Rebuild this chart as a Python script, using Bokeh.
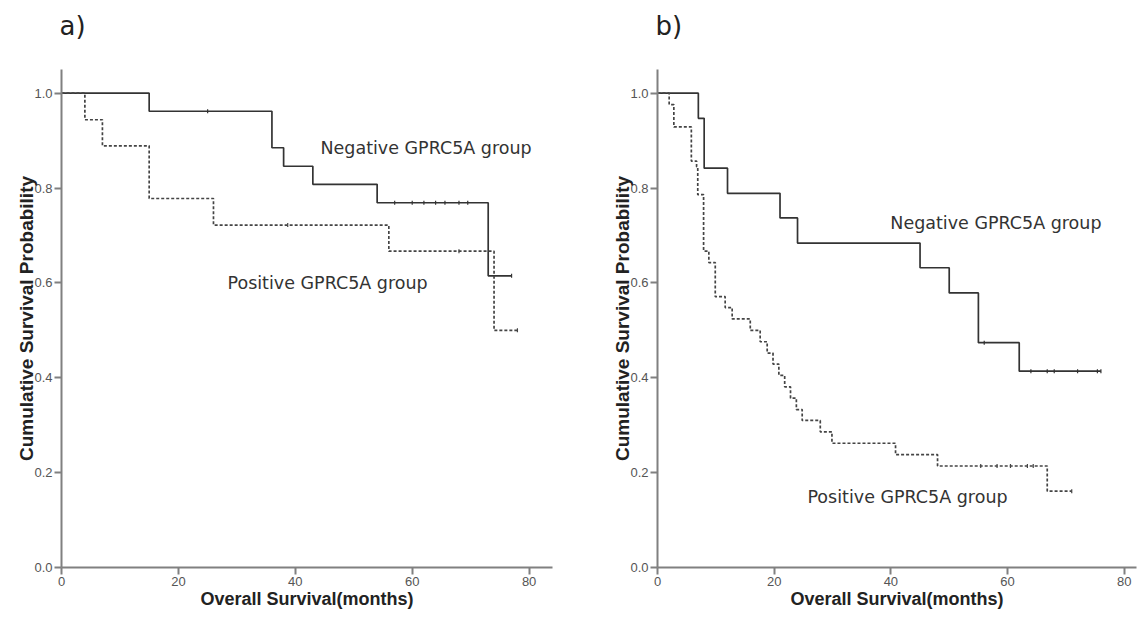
import numpy as np
from bokeh.plotting import figure
from bokeh.layouts import row
from bokeh.models import Label, Title, FixedTicker, NumeralTickFormatter, Range1d
from bokeh.embed import file_html
from bokeh.resources import INLINE

# ---------------- data ----------------
# panel a
a_neg_t = [0, 15, 36, 38, 43, 54, 73, 77]
a_neg_s = [1.0, 0.962, 0.885, 0.846, 0.808, 0.769, 0.615, 0.615]
a_neg_cens = [25, 57, 60, 62, 64, 65.6, 68, 69.5, 77]
a_pos_t = [0, 4, 7, 15, 26, 56, 74, 78]
a_pos_s = [1.0, 0.944, 0.889, 0.778, 0.722, 0.667, 0.5, 0.5]
a_pos_cens = [38.7, 68, 78]

# panel b
b_neg_t = [0, 7, 8, 12, 21, 24, 45, 50, 55, 62, 76]
b_neg_s = [1.0, 0.947, 0.842, 0.789, 0.737, 0.684, 0.632, 0.579, 0.474, 0.414, 0.414]
b_neg_cens = [56, 64, 66.8, 68, 72, 75.4, 76]
b_pos_t = [0, 2, 2.8, 5.8, 6.7, 6.9, 7.9, 8.8, 9.9, 11.6, 12.8, 15.9, 17.6, 18.8,
           19.8, 20.8, 21.8, 22.8, 23.8, 24.8, 27.9, 29.9, 40.8, 48, 66.8, 71]
b_pos_s = [1.0, 0.976, 0.929, 0.857, 0.845, 0.786, 0.667, 0.643, 0.571, 0.548, 0.524,
           0.500, 0.476, 0.452, 0.429, 0.405, 0.381, 0.357, 0.333, 0.310, 0.286,
           0.262, 0.238, 0.214, 0.161, 0.161]
b_pos_cens = [55.4, 58.2, 60.5, 63.4, 64.4, 71]

x_ticks = [0, 20, 40, 60, 80]
y_ticks = [0.0, 0.2, 0.4, 0.6, 0.8, 1.0]

LINE = "#333333"
AXIS = "#808080"


def surv_at(times, surv, t):
    idx = np.searchsorted(np.asarray(times), t, side="right") - 1
    return [surv[i] for i in np.atleast_1d(idx)]


def make_panel(width, border_left, border_right, x_end, neg, pos, letter,
               neg_lab, pos_lab):
    p = figure(width=width, height=623, output_backend="svg", toolbar_location=None,
               x_range=Range1d(0, x_end), y_range=Range1d(0, 1.05),
               min_border_left=border_left, min_border_right=border_right,
               min_border_top=69, min_border_bottom=56)
    p.outline_line_color = None
    p.grid.visible = False
    p.background_fill_color = "white"

    p.title = Title(text=letter, text_font="DejaVu Sans", text_font_size="26px",
                    text_font_style="normal", text_color="#222222",
                    align="left", offset=-2, standoff=10)
    # spacer between the panel letter and the plot frame
    p.add_layout(Title(text=" ", text_font_size="1px", standoff=21), "above")

    for ax in (p.xaxis[0], p.yaxis[0]):
        ax.axis_line_color = AXIS
        ax.axis_line_width = 2
        ax.major_tick_line_color = AXIS
        ax.major_tick_line_width = 2
        ax.major_tick_out = 7
        ax.major_tick_in = 0
        ax.minor_tick_line_color = None
        ax.major_label_text_font = "Liberation Sans"
        ax.major_label_text_font_size = "13px"
        ax.major_label_text_color = "#555555"
        ax.major_label_standoff = 2
        ax.axis_label_text_font = "Liberation Sans"
        ax.axis_label_text_font_style = "bold"
        ax.axis_label_text_color = "#222222"

    p.xaxis.ticker = FixedTicker(ticks=x_ticks)
    p.yaxis.ticker = FixedTicker(ticks=y_ticks)
    p.yaxis.formatter = NumeralTickFormatter(format="0.0")
    p.xaxis.axis_label = "Overall Survival(months)"
    p.yaxis.axis_label = "Cumulative Survival Probability"
    p.xaxis.axis_label_text_font_size = "18px"
    p.yaxis.axis_label_text_font_size = "19px"
    p.xaxis.axis_label_standoff = 0
    p.yaxis.axis_label_standoff = -6

    (nt, ns, nc), (pt, ps, pc) = neg, pos
    p.step(nt, ns, mode="after", line_color=LINE, line_width=1.7)
    p.step(pt, ps, mode="after", line_color="#444444", line_width=1.7, line_dash="3 2")
    p.scatter(nc, surv_at(nt, ns, nc), marker="dash", angle=np.pi / 2, size=4,
              line_color=LINE, line_width=1.2)
    p.scatter(pc, surv_at(pt, ps, pc), marker="dash", angle=np.pi / 2, size=4,
              line_color="#444444", line_width=1.2)

    p.add_layout(Label(x=neg_lab[0], y=neg_lab[1], text="Negative GPRC5A group",
                       text_font="DejaVu Sans", text_font_size="17.5px",
                       text_color="#333333", text_baseline="middle"))
    p.add_layout(Label(x=pos_lab[0], y=pos_lab[1], text="Positive GPRC5A group",
                       text_font="DejaVu Sans", text_font_size="17.5px",
                       text_color="#333333", text_baseline="middle"))
    return p


pa = make_panel(565, 61, 13, 84.0,
                (a_neg_t, a_neg_s, a_neg_cens), (a_pos_t, a_pos_s, a_pos_cens),
                "a)", (44.3, 0.884), (28.4, 0.599))
pb = make_panel(575, 92, 4, 82.1,
                (b_neg_t, b_neg_s, b_neg_cens), (b_pos_t, b_pos_s, b_pos_cens),
                "b)", (39.9, 0.726), (25.7, 0.148))

layout = row(pa, pb)
open("out.html", "w").write(file_html(layout, INLINE))
